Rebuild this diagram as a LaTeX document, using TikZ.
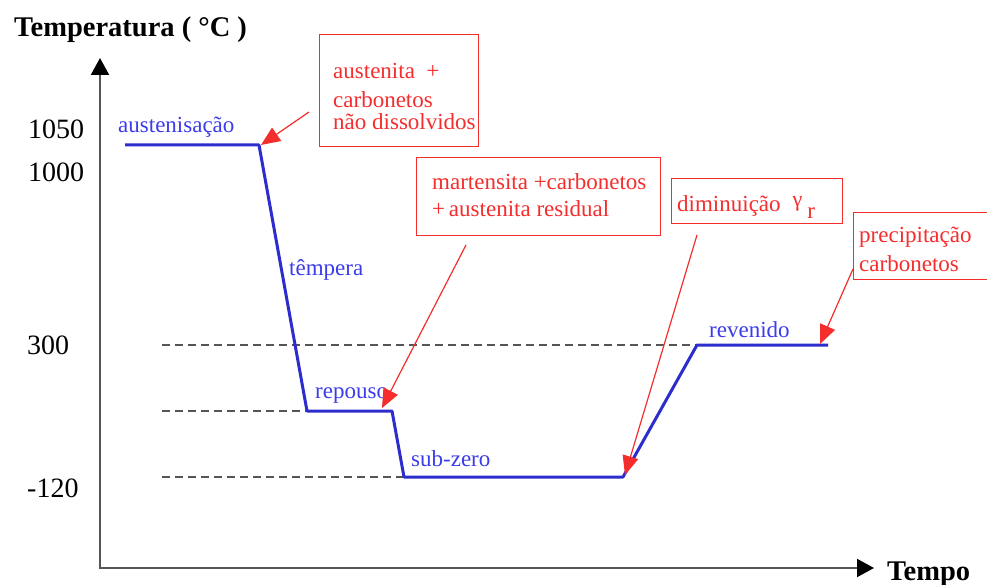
\documentclass[tikz,border=0pt]{standalone}
\usepackage{fontspec}
\setmainfont{Liberation Serif}
\usetikzlibrary{arrows.meta,calc}
\definecolor{redc}{RGB}{245,45,45}
\definecolor{bluec}{RGB}{45,45,205}
\definecolor{bluet}{RGB}{60,60,235}
\definecolor{grayc}{RGB}{85,85,85}
\begin{document}
\begin{tikzpicture}[x=1pt,y=-1pt,
  tick/.style={font=\fontsize{28}{30}\selectfont, anchor=base west, inner sep=0},
  axtitle/.style={font=\bfseries\fontsize{28.5}{30}\selectfont, anchor=base west, inner sep=0},
  phase/.style={font=\fontsize{23}{25}\selectfont, text=bluet, anchor=base west, inner sep=0},
  note/.style={font=\fontsize{23}{26}\selectfont, text=redc, anchor=base west, inner sep=0},
  notebox/.style={draw=redc, line width=1.3pt, rectangle, anchor=north west, inner sep=0},
  callout/.style={draw=redc, line width=1.2pt, -{Triangle[length=19pt,width=16pt]}},
  curve/.style={draw=bluec, line width=3pt, line join=round},
  guide/.style={draw=grayc, line width=1.3pt, dash pattern=on 8pt off 5pt},
  axis/.style={draw=grayc, line width=2pt,
    {Triangle[length=17pt,width=18pt,color=black]}-{Triangle[length=17pt,width=18pt,color=black]}}]
\useasboundingbox (0,0) rectangle (987,585);
\clip (0,0) rectangle (987,585);
\fill[white] (0,0) rectangle (987,585);

% axes
\coordinate (ytip) at (100,58);
\coordinate (orig) at (100,568);
\coordinate (xtip) at (874,568);
\draw[axis] (ytip) -- (orig) -- (xtip);
\node[axtitle] (ttl) at (14,37) {Temperatura ( °C )};
\node[axtitle] (tempo) at (887,580) {Tempo};

% tick labels
\node[tick] (t1050) at (28,139) {1050};
\node[tick] (t1000) at (28,182) {1000};
\node[tick] (t300) at (27,354) {300};
\node[tick] (tm120) at (27,497) {-120};

% curve corners
\coordinate (p1) at (125,145);
\coordinate (p2) at (259,145);
\coordinate (p3) at (307,411);
\coordinate (p4) at (392,411);
\coordinate (p5) at (404,477);
\coordinate (p6) at (623,477);
\coordinate (p7) at (697,345);
\coordinate (p8) at (828,345);

% guides
\coordinate (g300) at (162,345);
\coordinate (g411) at (162,411);
\coordinate (g477) at (162,477);
\draw[guide] (g300) -- (p7);
\draw[guide] (g411) -- (p3);
\draw[guide] (g477) -- (p5);

\draw[curve] (p1) -- (p2) -- (p3) -- (p4) -- (p5) -- (p6) -- (p7) -- (p8);

% phase labels
\node[phase] (laus) at (118,133) {austenisação};
\node[phase] (ltem) at (289,275) {têmpera};
\node[phase] (lrep) at (315,398) {repouso};
\node[phase] (lsub) at (411,466) {sub-zero};
\node[phase] (lrev) at (709,337) {revenido};

% note boxes
\node[notebox, minimum width=159pt, minimum height=112pt] (b1) at (319,34) {};
\node[notebox, minimum width=244pt, minimum height=78pt] (b2) at (416,157) {};
\node[notebox, minimum width=171pt, minimum height=45pt] (b3) at (671,178) {};
\node[notebox, minimum width=200pt, minimum height=67pt] (b4) at (853,212) {};

\node[note] (n1a) at (333,79) {austenita\ \ +};
\node[note] (n1b) at (333,108) {carbonetos};
\node[note] (n1c) at (333,130) {não dissolvidos};
\node[note] (n2a) at (432,190) {martensita +carbonetos};
\node[note] (n2b) at (432,217) {+\,austenita residual};
\node[note] (n3) at (677,212) {diminuição\hspace{12pt}\raisebox{5pt}{\fontsize{22}{22}\selectfont γ}\hspace{5pt}\raisebox{-6pt}{r}};
\node[note] (n4a) at (859,243) {precipitação};
\node[note] (n4b) at (859,272) {carbonetos};

% callouts
\coordinate (c1) at (309,112);
\coordinate (c2) at (466,245);
\coordinate (c3) at (697,235);
\coordinate (c4) at (853,269);
\coordinate (e1) at (261,145);
\coordinate (e2) at (382,408);
\coordinate (e3) at (625,475);
\coordinate (e4) at (820,344);
\draw[callout] (c1) -- (e1);
\draw[callout] (c2) -- (e2);
\draw[callout] (c3) -- (e3);
\draw[callout] (c4) -- (e4);
\end{tikzpicture}
\end{document}
